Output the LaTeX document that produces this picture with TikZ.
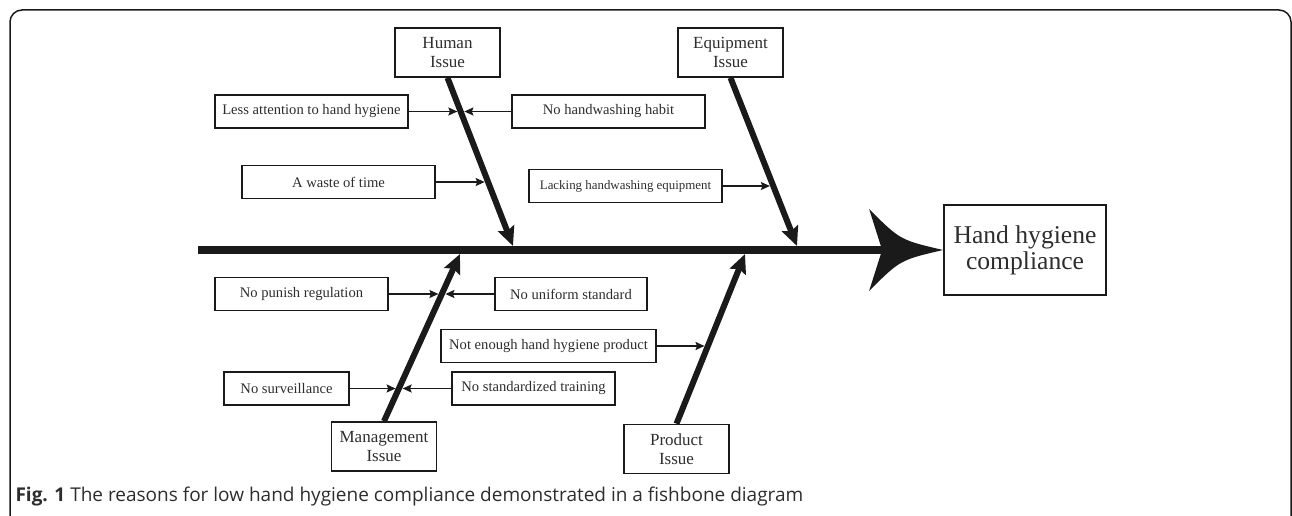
\documentclass[tikz,border=0pt]{standalone}
\usepackage{fontspec}
\setmainfont{Liberation Serif}
\usepackage{tikz}
\usetikzlibrary{arrows.meta,calc,positioning}
\newfontfamily\capfont{Open Sans}
\definecolor{fbline}{RGB}{26,26,26}
\definecolor{fbtext}{RGB}{45,45,45}
\tikzstyle{causebox} = [rectangle, draw=fbline, line width=1.6pt, minimum height=33pt, inner sep=3pt, text=fbtext, font=\fontsize{14.6}{17}\selectfont]
\tikzstyle{issuebox} = [rectangle, draw=fbline, line width=1.6pt, minimum width=105pt, minimum height=49pt, align=center, text=fbtext, font=\fontsize{17}{19}\selectfont]
\tikzstyle{effectbox} = [rectangle, draw=fbline, line width=1.8pt, minimum width=162pt, minimum height=90pt, align=center, text=fbtext, font=\fontsize{25.6}{26}\selectfont]
\tikzstyle{bone} = [line width=6pt, color=fbline, -{Stealth[length=19pt,width=17pt,inset=3pt]}]
\tikzstyle{twig} = [line width=1.6pt, color=fbline, -{Stealth[length=9pt,width=8pt,inset=1.5pt]}, shorten >=3.5pt]
\tikzstyle{spine} = [line width=8pt, color=fbline, shorten >=25pt]

\begin{document}
\begin{tikzpicture}[x=1pt, y=-1pt]
    \useasboundingbox (0,0) rectangle (1292,516);
    % Frame
    \draw[fbline, line width=1.5pt, rounded corners=12pt] (10,520) -- (10,10) -- (1291,10) -- (1291,520);

    % Effect and spine
    \node[effectbox] (effect) at (1025,250) {Hand hygiene\\compliance};
    \coordinate (tail) at (198,250);
    \draw[spine] (tail) -- (effect.west);
    \begin{scope}[shift={(effect.west)}]
        \fill[fbline] (0,0) .. controls (-43,-10) .. (-74,-41) -- (-61,0) -- (-74,41) .. controls (-43,10) .. (0,0) -- cycle;
    \end{scope}

    % Issue boxes
    \node[issuebox] (human) at (447.5,52.5) {Human\\Issue};
    \node[issuebox] (equip) at (730.5,52.5) {Equipment\\Issue};
    \node[issuebox] (manage) at (384,446.5) {Management\\Issue};
    \node[issuebox] (product) at (676.5,449) {Product\\Issue};

    % Bones
    \coordinate (hend) at (513,246);
    \coordinate (eend) at (797,246);
    \coordinate (mend) at (460,254);
    \coordinate (pend) at (745,254);
    \draw[bone] (human.south) -- (hend);
    \draw[bone] (equip.south) -- (eend);
    \draw[bone] (manage.north) -- (mend);
    \draw[bone] (product.north) -- (pend);

    % Causes
    \node[causebox, minimum width=193pt] (attention) at (311.5,111.5) {Less attention to hand hygiene};
    \node[causebox, minimum width=193pt] (habit) at (608.5,111.5) {No handwashing habit};
    \node[causebox, minimum width=193pt] (waste) at (338.5,182) {A waste of time};
    \node[causebox, minimum width=193pt, font=\fontsize{12.9}{15}\selectfont] (lacking) at (625.5,186) {Lacking handwashing equipment};
    \node[causebox, minimum width=173pt] (punish) at (301.5,294) {No punish regulation};
    \node[causebox, minimum width=152pt] (uniform) at (571,294) {No uniform standard};
    \node[causebox, minimum width=215pt] (notenough) at (548.5,346) {Not enough hand hygiene product};
    \node[causebox, minimum width=125pt] (surveil) at (286.5,388.5) {No surveillance};
    \node[causebox, minimum width=163pt] (training) at (533.5,388.5) {No standardized training};

    % Points on the bones
    \coordinate (h1) at ($(human.south)!0.204!(hend)$);
    \coordinate (h2) at ($(human.south)!0.621!(hend)$);
    \coordinate (e1) at ($(equip.south)!0.645!(eend)$);
    \coordinate (m1) at ($(manage.north)!0.762!(mend)$);
    \coordinate (m2) at ($(manage.north)!0.199!(mend)$);
    \coordinate (p1) at ($(product.north)!0.46!(pend)$);

    % Twigs
    \draw[twig] (attention) -- (attention -| h1);
    \draw[twig] (habit) -- (habit -| h1);
    \draw[twig] (waste) -- (waste -| h2);
    \draw[twig] (lacking) -- (lacking -| e1);
    \draw[twig] (punish) -- (punish -| m1);
    \draw[twig] (uniform) -- (uniform -| m1);
    \draw[twig] (notenough) -- (notenough -| p1);
    \draw[twig] (surveil) -- (surveil -| m2);
    \draw[twig] (training) -- (training -| m2);

    % Caption
    \node[anchor=west, text=fbtext, font=\capfont\fontsize{19}{22}\selectfont] (caption) at (12,497) {\textbf{Fig. 1} The reasons for low hand hygiene compliance demonstrated in a fishbone diagram};
\end{tikzpicture}
\end{document}
